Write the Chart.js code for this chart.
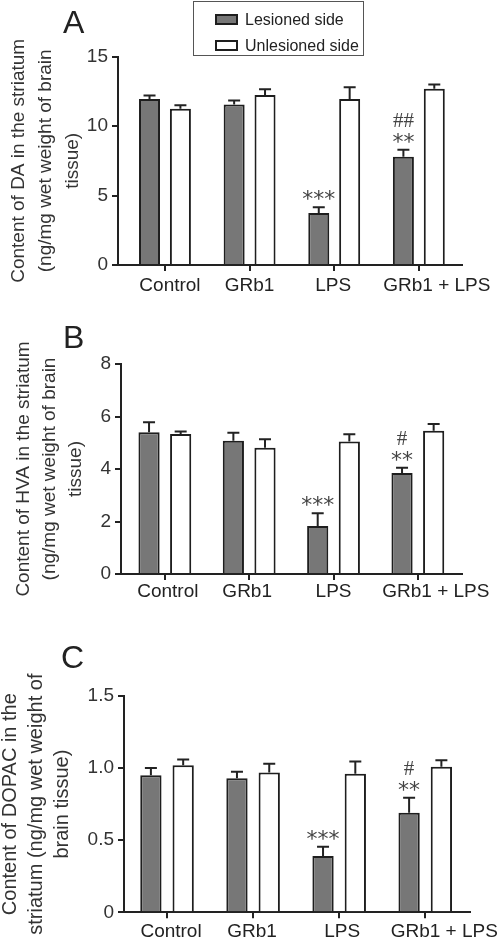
<!DOCTYPE html>
<html>
<head>
<meta charset="utf-8">
<script src="https://cdn.jsdelivr.net/npm/chart.js@4.4.0/dist/chart.umd.min.js"></script>
<style>
  body { margin: 0; background: #fff; width: 501px; height: 938px; position: relative; overflow: hidden;
         font-family: "Liberation Sans", Arial, sans-serif; color: #222; }
  canvas { position: absolute; left: 0; }
  .letter { position: absolute; font-size: 32px; line-height: 1; color: #222; }
  #legend { position: absolute; left: 193px; top: 1px; width: 169px; height: 53px; border: 1px solid #555;
            font-size: 16px; color: #222; }
  .item { position: absolute; left: 0; height: 20px; }
  .swatch { position: absolute; left: 21px; width: 19px; height: 7px; border: 2px solid #1e1e1e; }
  .item span.txt { position: absolute; left: 51px; top: 0; white-space: nowrap; line-height: 20px; }
</style>
</head>
<body>
<canvas id="chartA" width="501" height="300" style="top:0px"></canvas>
<canvas id="chartB" width="501" height="320" style="top:300px"></canvas>
<canvas id="chartC" width="501" height="318" style="top:620px"></canvas>

<div class="letter" style="left:63px;top:6px">A</div>
<div class="letter" style="left:63px;top:321px">B</div>
<div class="letter" style="left:61px;top:641px">C</div>

<div id="legend"></div>

<script>
const FONT = "'Liberation Sans', Arial, sans-serif";

const groups = ["Control", "GRb1", "LPS", "GRb1 + LPS"];
const seriesNames = ["Lesioned side", "Unlesioned side"];

// A - DA
const daLesioned = [11.95, 11.55, 3.75, 7.8];
const daLesionedErr = [0.25, 0.3, 0.4, 0.5];
const daUnlesioned = [11.25, 12.25, 11.95, 12.7];
const daUnlesionedErr = [0.25, 0.4, 0.85, 0.3];
const daStars = ["", "", "***", "**"];
const daHashes = ["", "", "", "##"];
const daTicks = [0, 5, 10, 15];
const daTickLabels = ["0", "5", "10", "15"];

// B - HVA
const hvaLesioned = [5.4, 5.08, 1.83, 3.85];
const hvaLesionedErr = [0.38, 0.3, 0.48, 0.2];
const hvaUnlesioned = [5.33, 4.81, 5.05, 5.46];
const hvaUnlesionedErr = [0.1, 0.32, 0.27, 0.25];
const hvaStars = ["", "", "***", "**"];
const hvaHashes = ["", "", "", "#"];
const hvaTicks = [0, 2, 4, 6, 8];
const hvaTickLabels = ["0", "2", "4", "6", "8"];

// C - DOPAC
const dopacLesioned = [0.95, 0.93, 0.39, 0.69];
const dopacLesionedErr = [0.05, 0.045, 0.065, 0.105];
const dopacUnlesioned = [1.02, 0.97, 0.96, 1.01];
const dopacUnlesionedErr = [0.04, 0.06, 0.085, 0.045];
const dopacStars = ["", "", "***", "**"];
const dopacHashes = ["", "", "", "#"];
const dopacTicks = [0, 0.5, 1.0, 1.5];
const dopacTickLabels = ["0", "0.5", "1.0", "1.5"];

// legend
const legendColors = ["#777777", "#ffffff"];
const legendDiv = document.getElementById("legend");
seriesNames.forEach((name, i) => {
  const item = document.createElement("div");
  item.className = "item";
  item.style.top = (8 + i * 26) + "px";
  item.innerHTML = '<div class="swatch" style="top:4px;background:' + legendColors[i] + '"></div><span class="txt">' + name + '</span>';
  legendDiv.appendChild(item);
});

// error bars (upper only)
const errorBars = {
  id: "errorBars",
  afterDatasetsDraw(chart) {
    const c = chart.ctx;
    const y = chart.scales.y;
    chart.data.datasets.forEach((ds, d) => {
      chart.getDatasetMeta(d).data.forEach((bar, i) => {
        const top = y.getPixelForValue(ds.data[i].y + ds.errors[i]);
        c.save();
        c.strokeStyle = "#222";
        c.lineWidth = 2;
        c.beginPath();
        c.moveTo(bar.x, bar.y);
        c.lineTo(bar.x, top);
        c.moveTo(bar.x - 6, top);
        c.lineTo(bar.x + 6, top);
        c.stroke();
        c.restore();
      });
    });
  }
};

// significance marks above lesioned bars
const sigMarks = {
  id: "sigMarks",
  afterDatasetsDraw(chart) {
    const ds = chart.data.datasets[0];
    const y = chart.scales.y;
    const c = chart.ctx;
    chart.getDatasetMeta(0).data.forEach((bar, i) => {
      const top = y.getPixelForValue(ds.data[i].y + ds.errors[i]);
      c.save();
      c.fillStyle = "#444";
      c.textAlign = "center";
      c.textBaseline = "alphabetic";
      if (ds.stars[i]) {
        c.font = "22px 'DejaVu Sans'";
        c.fillText(ds.stars[i], bar.x, top - 1);
      }
      if (ds.hashes[i]) {
        c.font = "21px 'Liberation Serif'";
        c.fillText(ds.hashes[i], bar.x, top - 23);
      }
      c.restore();
    });
  }
};

// group names under the x axis
const groupLabels = {
  id: "groupLabels",
  afterDraw(chart, args, opts) {
    const c = chart.ctx;
    const x = chart.scales.x;
    c.save();
    c.fillStyle = "#222";
    c.font = "19px " + FONT;
    c.textAlign = "center";
    c.textBaseline = "alphabetic";
    groups.forEach((g, i) => {
      c.fillText(g, x.getPixelForValue(i) + opts.nudge[i], chart.chartArea.bottom + opts.base);
    });
    c.restore();
  }
};

function drawPanel(canvasId, p) {
  const canvas = document.getElementById(canvasId);
  const ctx = canvas.getContext("2d");
  const axisColor = "#222";
  return new Chart(ctx, {
    type: "bar",
    data: {
      datasets: [
        {
          label: seriesNames[0],
          data: p.lesioned.map((v, i) => ({ x: i, y: v })),
          errors: p.lesionedErr,
          stars: p.stars,
          hashes: p.hashes,
          backgroundColor: legendColors[0],
          borderColor: "#1e1e1e",
          borderWidth: 2,
          categoryPercentage: p.catPct,
          barPercentage: p.barPct
        },
        {
          label: seriesNames[1],
          data: p.unlesioned.map((v, i) => ({ x: i, y: v })),
          errors: p.unlesionedErr,
          backgroundColor: legendColors[1],
          borderColor: "#1e1e1e",
          borderWidth: 2,
          categoryPercentage: p.catPct,
          barPercentage: p.barPct
        }
      ]
    },
    options: {
      responsive: false,
      animation: false,
      layout: {
        padding: { left: 0, top: p.top, right: canvas.width - p.right, bottom: canvas.height - p.bottom - 20 }
      },
      plugins: {
        legend: { display: false },
        tooltip: { enabled: false },
        groupLabels: { nudge: p.nudge, base: p.labelBase }
      },
      scales: {
        x: {
          type: "linear",
          min: p.xMin,
          max: p.xMax,
          offset: false,
          afterBuildTicks: (s) => { s.ticks = groups.map((_, i) => ({ value: i })); },
          afterFit: (s) => { s.height = 20; },
          ticks: { display: false },
          grid: { drawOnChartArea: false, offset: false, tickLength: 6, lineWidth: 2, color: axisColor },
          border: { color: axisColor, width: 2 }
        },
        y: {
          min: p.ticks[0],
          max: p.ticks[p.ticks.length - 1],
          afterBuildTicks: (s) => { s.ticks = p.ticks.map((v) => ({ value: v })); },
          afterFit: (s) => { s.width = p.left; },
          ticks: {
            callback: (v, i) => p.tickLabels[i],
            color: "#333",
            font: { family: FONT, size: 19 },
            padding: 4
          },
          grid: { drawOnChartArea: false, tickLength: 6, lineWidth: 2, color: axisColor },
          border: { color: axisColor, width: 2 },
          title: {
            display: true,
            text: p.title,
            color: "#333",
            font: { family: FONT, size: p.titleSize, lineHeight: p.titleLh },
            padding: { top: p.titlePad, bottom: 0 }
          }
        }
      }
    },
    plugins: [errorBars, sigMarks, groupLabels]
  });
}

drawPanel("chartA", {
  lesioned: daLesioned, lesionedErr: daLesionedErr,
  unlesioned: daUnlesioned, unlesionedErr: daUnlesionedErr,
  stars: daStars, hashes: daHashes, ticks: daTicks, tickLabels: daTickLabels,
  title: ["Content of DA in the striatum", "(ng/mg wet weight of brain", "tissue)"],
  titleSize: 19, titleLh: 1.42, titlePad: 5,
  top: 56.7, bottom: 265, left: 118, right: 462, xMin: -0.555, xMax: 3.51,
  catPct: 0.73, barPct: 0.68, nudge: [5, 0, -1, 18], labelBase: 26
});

drawPanel("chartB", {
  lesioned: hvaLesioned, lesionedErr: hvaLesionedErr,
  unlesioned: hvaUnlesioned, unlesionedErr: hvaUnlesionedErr,
  stars: hvaStars, hashes: hvaHashes, ticks: hvaTicks, tickLabels: hvaTickLabels,
  title: ["Content of HVA in the striatum", "(ng/mg wet weight of brain", "tissue)"],
  titleSize: 19, titleLh: 1.37, titlePad: 11,
  top: 64, bottom: 274, left: 121, right: 461.7, xMin: -0.52, xMax: 3.52,
  catPct: 0.75, barPct: 0.67, nudge: [3, -2, 0, 18], labelBase: 23
});

drawPanel("chartC", {
  lesioned: dopacLesioned, lesionedErr: dopacLesionedErr,
  unlesioned: dopacUnlesioned, unlesionedErr: dopacUnlesionedErr,
  stars: dopacStars, hashes: dopacHashes, ticks: dopacTicks, tickLabels: dopacTickLabels,
  title: ["Content of DOPAC in the", "striatum (ng/mg wet weight of", "brain tissue)"],
  titleSize: 20, titleLh: 1.3, titlePad: -3,
  top: 76, bottom: 292.3, left: 124, right: 470, xMin: -0.5, xMax: 3.52,
  catPct: 0.75, barPct: 0.66, nudge: [4, -1, 3, 19], labelBase: 25
});
</script>
</body>
</html>
